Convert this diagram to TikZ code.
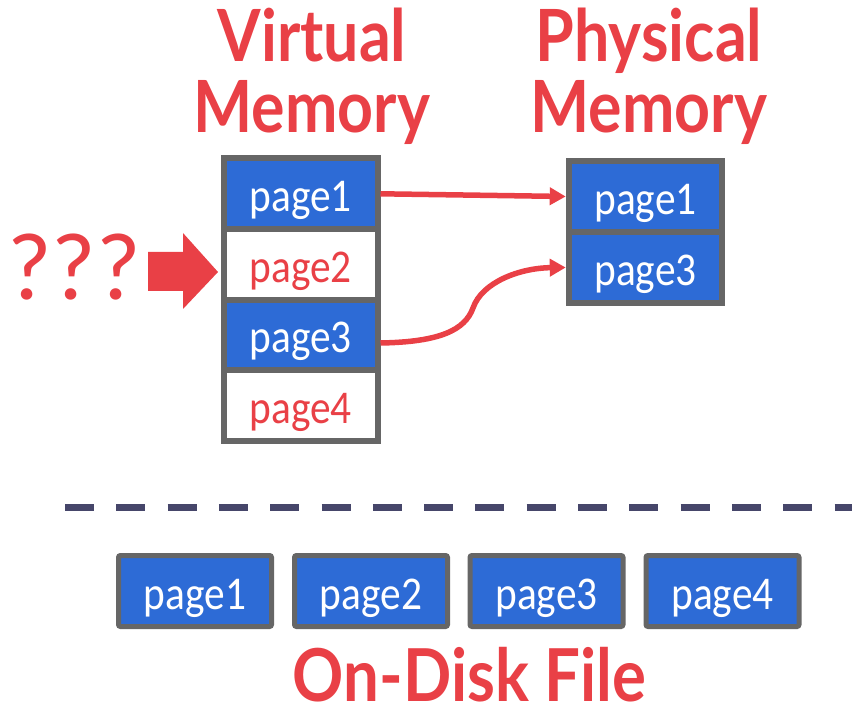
\documentclass[tikz,border=0pt]{standalone}
\usepackage{fontspec}
\setmainfont{Carlito}
\newfontfamily\pagefont{Carlito}[FakeStretch=0.88]
\newfontfamily\titlefont{Lato}[FakeStretch=0.87]
\usetikzlibrary{arrows.meta,calc}
\definecolor{myred}{HTML}{E94046}
\definecolor{myblue}{HTML}{2D6BD6}
\definecolor{mygray}{HTML}{666666}
\definecolor{mydash}{HTML}{46466A}
\tikzset{
  pagetext/.style={font=\pagefont\fontsize{47}{52}\selectfont, text height=36pt, text depth=0pt},
  cell/.style={draw=mygray, line width=6pt, minimum width=153.5pt, minimum height=70.6pt, inner sep=0pt, pagetext},
  full/.style={cell, fill=myblue, text=white},
  empty/.style={cell, fill=white, text=myred},
  diskbox/.style={draw=mygray, line width=5pt, fill=myblue, text=white, rounded corners=2pt, minimum width=153pt, minimum height=71pt, inner sep=0pt, pagetext},
  title/.style={text=myred, font=\titlefont\bfseries\fontsize{72}{71}\selectfont, align=center, inner sep=0pt},
  link/.style={draw=myred, line width=5.5pt, -{Triangle[length=16pt,width=17pt]}}
}
\begin{document}
\begin{tikzpicture}[x=1pt,y=-1pt]
\useasboundingbox (0,0) rectangle (860,708);
% titles
\node[title, anchor=base] (vt) at (312,133) {Virtual\\Memory};
\node[title, anchor=base] (pt) at (649,133) {Physical\\Memory};
% virtual memory column
\node[full]  (v1) at (300.75,193.8) {page1};
\node[empty] (v2) at (300.75,264.4) {page2};
\node[full]  (v3) at (300.75,335.0) {page3};
\node[empty] (v4) at (300.75,405.6) {page4};
% physical memory
\node[full] (p1) at (645.5,196.5) {page1};
\node[full] (p3) at (645.5,267.5) {page3};
% arrows
\draw[link] (v1.east) -- (p1.west);
\draw[link] ($(v3.east)+(0,8)$) .. controls (440,342) and (465,330) .. (473,308)
  .. controls (482,282) and (520,268) .. (p3.west);
% question marks and block arrow
\node[text=myred, font=\fontsize{96}{100}\selectfont, anchor=base, inner sep=0pt] (q) at (74,300) {???};
\fill[myred] (148,252) -- (183,252) -- (183,233) -- (218,272) -- (183,309) -- (183,291) -- (148,291) -- cycle;
% dashed separator
\coordinate (d1) at (65,507.5);
\coordinate (d2) at (852,507.5);
\draw[mydash, line width=7pt, dash pattern=on 29pt off 22.3pt] (d1) -- (d2);
% disk pages
\node[diskbox] (f1) at (195,591) {page1};
\node[diskbox] (f2) at (371,591) {page2};
\node[diskbox] (f3) at (546.5,591) {page3};
\node[diskbox] (f4) at (722.5,591) {page4};
\node[title, anchor=base, font=\titlefont\bfseries\fontsize{73}{71}\selectfont, text depth=0pt] (disk) at (469.5,701) {On-Disk File};
\end{tikzpicture}
\end{document}
